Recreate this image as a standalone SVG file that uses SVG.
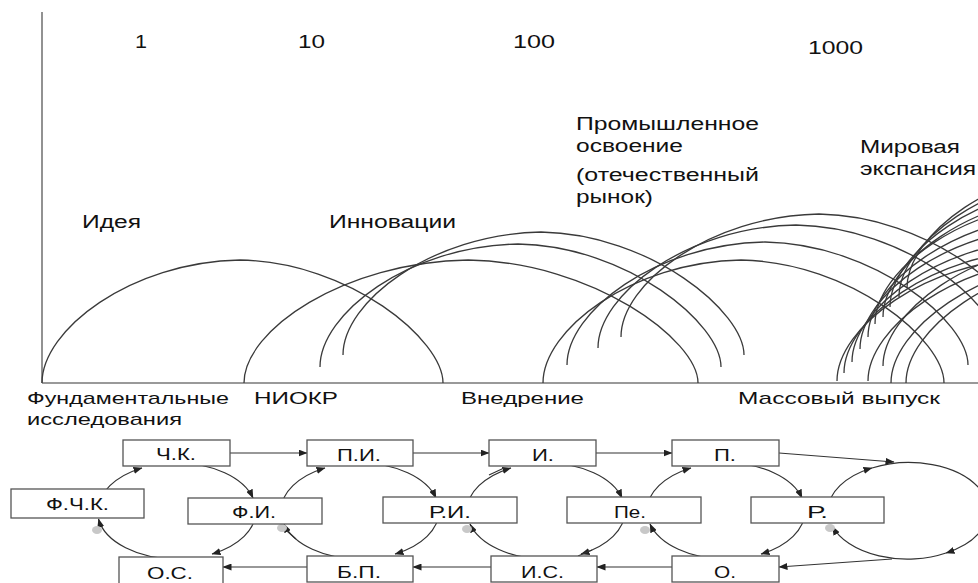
<svg xmlns="http://www.w3.org/2000/svg" xmlns:xlink="http://www.w3.org/1999/xlink" width="978" height="583" viewBox="0 0 978 583">
<style>
.axis{fill:none;stroke:#777;stroke-width:1.6}
.arc{fill:none;stroke:#3a3a3a;stroke-width:1.3}
.lbl{font-family:"Liberation Sans",Arial,sans-serif;font-size:18px;fill:#111}
.bl{font-family:"Liberation Sans",Arial,sans-serif;font-size:17px;fill:#111}
.box{fill:#fff;stroke:#555;stroke-width:1.3}
.nt{font-family:"Liberation Sans",Arial,sans-serif;font-size:17px;fill:#111}
.con{fill:none;stroke:#333;stroke-width:1.2}
.dot{fill:#c8c8c8;stroke:none}
</style>
<defs>
<path id="arch" d="M0,0 C0,-53 88,-121 198,-123 C308,-121 401,-43 401,0"/>
<marker id="ah" markerWidth="9" markerHeight="7" refX="8.5" refY="3.5" orient="auto" markerUnits="userSpaceOnUse"><path d="M0,0 L9,3.5 L0,7 z" fill="#222"/></marker>
</defs>
<rect width="978" height="583" fill="#fff"/>

<g id="axes">
<line class="axis" x1="42" y1="12" x2="42" y2="383"/>
<line class="axis" x1="42" y1="383" x2="978" y2="383"/>
</g>

<g id="curves" class="arc">
<use xlink:href="#arch" href="#arch" x="42" y="383"/>
<path d="M244,383 C244,330 343.6,262 468.2,260 C592.7,262 698,340 698,383"/>
<use xlink:href="#arch" href="#arch" x="320" y="367"/>
<use xlink:href="#arch" href="#arch" x="343" y="355"/>
<use xlink:href="#arch" href="#arch" x="543" y="383"/>
<use xlink:href="#arch" href="#arch" x="567" y="365"/>
<use xlink:href="#arch" href="#arch" x="598" y="348"/>
<use xlink:href="#arch" href="#arch" x="621" y="337"/>
<use xlink:href="#arch" href="#arch" x="837" y="381"/>
<use xlink:href="#arch" href="#arch" x="844" y="373"/>
<use xlink:href="#arch" href="#arch" x="852" y="362"/>
<use xlink:href="#arch" href="#arch" x="860" y="349"/>
<use xlink:href="#arch" href="#arch" x="868" y="337"/>
<use xlink:href="#arch" href="#arch" x="875" y="324"/>
<use xlink:href="#arch" href="#arch" x="883" y="317"/>
<use xlink:href="#arch" href="#arch" x="890" y="307"/>
<use xlink:href="#arch" href="#arch" x="899" y="297"/>
<use xlink:href="#arch" href="#arch" x="907" y="288"/>
<use xlink:href="#arch" href="#arch" x="868" y="381"/>
<use xlink:href="#arch" href="#arch" x="883" y="366"/>
<use xlink:href="#arch" href="#arch" x="891" y="383"/>
<use xlink:href="#arch" href="#arch" x="906" y="383"/>
</g>

<g id="labels">
<text class="lbl" x="135" y="48" textLength="12" lengthAdjust="spacingAndGlyphs">1</text>
<text class="lbl" x="298" y="48" textLength="27" lengthAdjust="spacingAndGlyphs">10</text>
<text class="lbl" x="513" y="48" textLength="42" lengthAdjust="spacingAndGlyphs">100</text>
<text class="lbl" x="808" y="54" textLength="55" lengthAdjust="spacingAndGlyphs">1000</text>
<text class="lbl" x="576" y="130" textLength="183" lengthAdjust="spacingAndGlyphs">Промышленное</text>
<text class="lbl" x="576" y="152" textLength="107" lengthAdjust="spacingAndGlyphs">освоение</text>
<text class="lbl" x="576" y="181" textLength="183" lengthAdjust="spacingAndGlyphs">(отечественный</text>
<text class="lbl" x="576" y="203" textLength="77" lengthAdjust="spacingAndGlyphs">рынок)</text>
<text class="lbl" x="860" y="153" textLength="100" lengthAdjust="spacingAndGlyphs">Мировая</text>
<text class="lbl" x="860" y="175" textLength="116" lengthAdjust="spacingAndGlyphs">экспансия</text>
<text class="lbl" x="82" y="228" textLength="59" lengthAdjust="spacingAndGlyphs">Идея</text>
<text class="lbl" x="329" y="228" textLength="127" lengthAdjust="spacingAndGlyphs">Инновации</text>
<text class="bl" x="27" y="404" textLength="202" lengthAdjust="spacingAndGlyphs">Фундаментальные</text>
<text class="bl" x="27" y="425" textLength="155" lengthAdjust="spacingAndGlyphs">исследования</text>
<text class="bl" x="254" y="404" textLength="84" lengthAdjust="spacingAndGlyphs">НИОКР</text>
<text class="bl" x="461" y="404" textLength="123" lengthAdjust="spacingAndGlyphs">Внедрение</text>
<text class="bl" x="738" y="404" textLength="202" lengthAdjust="spacingAndGlyphs">Массовый выпуск</text>
</g>

<g id="connectors" class="con">
<path class="con" d="M98,511 A79,48 0 0 1 142,468" marker-end="url(#ah)"/>
<path class="con" d="M177,463 A79,48 0 0 1 253,498" marker-end="url(#ah)"/>
<path class="con" d="M256,511 A79,48 0 0 1 212,554" marker-end="url(#ah)"/>
<path class="con" d="M177,559 A79,48 0 0 1 98.5,519" marker-end="url(#ah)"/>

<path class="con" d="M281,511 A79,48 0 0 1 325,468" marker-end="url(#ah)"/>
<path class="con" d="M360,463 A79,48 0 0 1 436,498" marker-end="url(#ah)"/>
<path class="con" d="M439,511 A79,48 0 0 1 395,554" marker-end="url(#ah)"/>
<path class="con" d="M360,559 A79,48 0 0 1 284,524" marker-end="url(#ah)"/>
<path class="con" d="M287,531 L296,539"/>

<path class="con" d="M467,511 A79,48 0 0 1 511,468" marker-end="url(#ah)"/>
<path class="con" d="M489,475 L504,468"/>
<path class="con" d="M546,463 A79,48 0 0 1 622,498" marker-end="url(#ah)"/>
<path class="con" d="M625,511 A79,48 0 0 1 581,554" marker-end="url(#ah)"/>
<path class="con" d="M578,556 L592,550"/>
<path class="con" d="M546,559 A79,48 0 0 1 470,524" marker-end="url(#ah)"/>

<path class="con" d="M647,511 A79,48 0 0 1 691,468" marker-end="url(#ah)"/>
<path class="con" d="M726,463 A79,48 0 0 1 802,498" marker-end="url(#ah)"/>
<path class="con" d="M805,511 A79,48 0 0 1 761,554" marker-end="url(#ah)"/>
<path class="con" d="M726,559 A79,48 0 0 1 650,524" marker-end="url(#ah)"/>

<path class="con" d="M828,511 A79,48 0 0 1 872,468" marker-end="url(#ah)"/>
<path class="con" d="M872,468 A79,48 0 0 1 946,553" marker-end="url(#ah)"/>
<path class="con" d="M946,553 A79,48 0 0 1 832.5,526.5" marker-end="url(#ah)"/>

<line class="con" x1="230" y1="453" x2="307" y2="453" marker-end="url(#ah)"/>
<line class="con" x1="413" y1="453" x2="489" y2="453" marker-end="url(#ah)"/>
<line class="con" x1="596" y1="453" x2="672" y2="453" marker-end="url(#ah)"/>
<line class="con" x1="779" y1="453" x2="894" y2="462" marker-end="url(#ah)"/>
<line class="con" x1="892" y1="559" x2="779" y2="567" marker-end="url(#ah)"/>
<line class="con" x1="672" y1="567" x2="597" y2="567" marker-end="url(#ah)"/>
<line class="con" x1="491" y1="567" x2="413" y2="567" marker-end="url(#ah)"/>
<line class="con" x1="307" y1="567" x2="223" y2="567" marker-end="url(#ah)"/>

<ellipse class="dot" cx="97" cy="530" rx="5" ry="4"/>
<ellipse class="dot" cx="282" cy="528" rx="5" ry="4"/>
<ellipse class="dot" cx="467" cy="529" rx="5" ry="4"/>
<ellipse class="dot" cx="645" cy="530" rx="5" ry="4"/>
<ellipse class="dot" cx="830" cy="528" rx="5" ry="4"/>
</g>

<g id="n-fchk"><rect class="box" x="11" y="489" width="133" height="29"/><text class="nt" x="46" y="510" textLength="63" lengthAdjust="spacingAndGlyphs">Ф.Ч.К.</text></g>
<g id="n-chk"><rect class="box" x="123" y="440" width="107" height="26"/><text class="nt" x="156" y="460" textLength="40" lengthAdjust="spacingAndGlyphs">Ч.К.</text></g>
<g id="n-fi"><rect class="box" x="188" y="498" width="134" height="26"/><text class="nt" x="232" y="518" textLength="44" lengthAdjust="spacingAndGlyphs">Ф.И.</text></g>
<g id="n-os"><rect class="box" x="119" y="557" width="104" height="27"/><text class="nt" x="147" y="579" textLength="46" lengthAdjust="spacingAndGlyphs">О.С.</text></g>
<g id="n-pi"><rect class="box" x="307" y="440" width="106" height="26"/><text class="nt" x="337" y="461" textLength="44" lengthAdjust="spacingAndGlyphs">П.И.</text></g>
<g id="n-ri"><rect class="box" x="383" y="497" width="134" height="26"/><text class="nt" x="429" y="518" textLength="42" lengthAdjust="spacingAndGlyphs">Р.И.</text></g>
<g id="n-bp"><rect class="box" x="307" y="556" width="106" height="26"/><text class="nt" x="337" y="578" textLength="44" lengthAdjust="spacingAndGlyphs">Б.П.</text></g>
<g id="n-i"><rect class="box" x="489" y="440" width="107" height="26"/><text class="nt" x="532" y="461" textLength="22" lengthAdjust="spacingAndGlyphs">И.</text></g>
<g id="n-pe"><rect class="box" x="567" y="497" width="134" height="26"/><text class="nt" x="614" y="518" textLength="32" lengthAdjust="spacingAndGlyphs">Пе.</text></g>
<g id="n-is"><rect class="box" x="491" y="556" width="106" height="26"/><text class="nt" x="521" y="578" textLength="43" lengthAdjust="spacingAndGlyphs">И.С.</text></g>
<g id="n-p"><rect class="box" x="672" y="440" width="107" height="26"/><text class="nt" x="714" y="461" textLength="22" lengthAdjust="spacingAndGlyphs">П.</text></g>
<g id="n-r"><rect class="box" x="751" y="497" width="133" height="26"/><text class="nt" x="807" y="518" textLength="21" lengthAdjust="spacingAndGlyphs">Р.</text></g>
<g id="n-o"><rect class="box" x="672" y="556" width="107" height="26"/><text class="nt" x="714" y="578" textLength="22" lengthAdjust="spacingAndGlyphs">О.</text></g>
</svg>
